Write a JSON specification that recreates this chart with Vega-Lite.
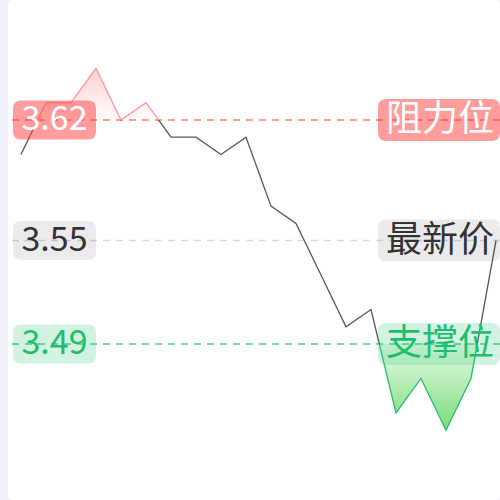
{
  "$schema": "https://vega.github.io/schema/vega-lite/v6.json",
  "width": 492,
  "height": 500,
  "autosize": {"type": "none"},
  "padding": {"left": 8, "top": 0, "right": 0, "bottom": 0},
  "background": "#f1f2f8",
  "config": {"view": {"fill": "white", "stroke": null, "cornerRadius": 5}, "font": "Noto Sans CJK SC"},
  "datasets": {
    "prices": [
      {"i": 0, "price": 3.60}, {"i": 1, "price": 3.63}, {"i": 2, "price": 3.63}, {"i": 3, "price": 3.65},
      {"i": 4, "price": 3.62}, {"i": 5, "price": 3.63}, {"i": 6, "price": 3.61}, {"i": 7, "price": 3.61},
      {"i": 8, "price": 3.60}, {"i": 9, "price": 3.61}, {"i": 10, "price": 3.57}, {"i": 11, "price": 3.56},
      {"i": 12, "price": 3.53}, {"i": 13, "price": 3.50}, {"i": 14, "price": 3.51}, {"i": 15, "price": 3.45},
      {"i": 16, "price": 3.47}, {"i": 17, "price": 3.44}, {"i": 18, "price": 3.47}, {"i": 19, "price": 3.55}
    ],
    "levels": [
      {"kind": "resistance", "level": 3.62, "value": "3.62", "name": "阻力位"},
      {"kind": "latest", "level": 3.55, "value": "3.55", "name": "最新价"},
      {"kind": "support", "level": 3.49, "value": "3.49", "name": "支撑位"}
    ]
  },
  "resolve": {"scale": {"color": "independent"}},
  "layer": [
    {
      "data": {"name": "prices"},
      "mark": {"type": "area", "fill": {"gradient": "linear", "x1": 0, "y1": 0, "x2": 0, "y2": 1, "stops": [
        {"offset": 0, "color": "rgba(255,110,110,0.32)"},
        {"offset": 0.1428, "color": "rgba(255,110,110,0.02)"},
        {"offset": 0.1429, "color": "rgba(255,255,255,0)"},
        {"offset": 1, "color": "rgba(255,255,255,0)"}
      ]}},
      "encoding": {
        "x": {"field": "i", "type": "quantitative", "scale": {"domain": [-0.52, 19.16], "nice": false, "zero": false}, "axis": null},
        "y": {"field": "price", "type": "quantitative", "scale": {"domain": [3.3995, 3.6896], "nice": false, "zero": false}, "axis": null},
        "y2": {"datum": 3.62}
      }
    },
    {
      "data": {"name": "prices"},
      "mark": {"type": "area", "fill": {"gradient": "linear", "x1": 0, "y1": 0, "x2": 0, "y2": 1, "stops": [
        {"offset": 0, "color": "rgba(255,255,255,0)"},
        {"offset": 0.7619, "color": "rgba(255,255,255,0)"},
        {"offset": 0.7620, "color": "#e8fae6"},
        {"offset": 1, "color": "#78dc7a"}
      ]}},
      "encoding": {
        "x": {"field": "i", "type": "quantitative", "axis": null},
        "y": {"field": "price", "type": "quantitative", "axis": null},
        "y2": {"datum": 3.49}
      }
    },
    {
      "data": {"name": "levels"},
      "mark": {"type": "rule", "strokeDash": [7, 6], "strokeWidth": 1.5},
      "encoding": {
        "y": {"field": "level", "type": "quantitative", "axis": null},
        "color": {"field": "kind", "type": "nominal", "legend": null, "scale": {"domain": ["resistance", "latest", "support"], "range": ["#ff7b7b", "#d9d9d9", "#4fcd8b"]}}
      }
    },
    {
      "data": {"name": "prices"},
      "mark": {"type": "line", "strokeWidth": 1.3, "stroke": {"gradient": "linear", "x1": 0, "y1": 0, "x2": 0, "y2": 1, "stops": [
        {"offset": 0, "color": "#ff9494"},
        {"offset": 0.142857, "color": "#ff9494"},
        {"offset": 0.142858, "color": "#555555"},
        {"offset": 0.761904, "color": "#555555"},
        {"offset": 0.761905, "color": "#22c06e"},
        {"offset": 1, "color": "#22c06e"}
      ]}},
      "encoding": {
        "x": {"field": "i", "type": "quantitative", "axis": null},
        "y": {"field": "price", "type": "quantitative", "axis": null}
      }
    },
    {
      "data": {"name": "levels"},
      "mark": {"type": "point", "filled": true, "opacity": 1, "strokeWidth": 0, "size": 6889,
        "shape": "M -0.807,-0.47 L 0.807,-0.47 Q 1,-0.47 1,-0.277 L 1,0.277 Q 1,0.47 0.807,0.47 L -0.807,0.47 Q -1,0.47 -1,0.277 L -1,-0.277 Q -1,-0.47 -0.807,-0.47 Z"},
      "encoding": {
        "x": {"datum": 1.34},
        "y": {"field": "level", "type": "quantitative", "axis": null},
        "color": {"field": "kind", "type": "nominal", "legend": null, "scale": {"domain": ["resistance", "latest", "support"], "range": ["rgba(255,60,60,0.5)", "rgba(0,0,0,0.08)", "rgba(30,190,110,0.2)"]}}
      }
    },
    {
      "data": {"name": "levels"},
      "mark": {"type": "point", "filled": true, "opacity": 1, "strokeWidth": 0, "size": 14884,
        "shape": "M -0.86,-0.344 L 0.86,-0.344 Q 1,-0.344 1,-0.204 L 1,0.204 Q 1,0.344 0.86,0.344 L -0.86,0.344 Q -1,0.344 -1,0.204 L -1,-0.204 Q -1,-0.344 -0.86,-0.344 Z"},
      "encoding": {
        "x": {"datum": 16.72},
        "y": {"field": "level", "type": "quantitative", "axis": null},
        "color": {"field": "kind", "type": "nominal", "legend": null, "scale": {"domain": ["resistance", "latest", "support"], "range": ["rgba(255,60,60,0.5)", "rgba(0,0,0,0.08)", "rgba(30,190,110,0.2)"]}}
      }
    },
    {
      "data": {"name": "levels"},
      "mark": {"type": "text", "fontSize": 34, "align": "center", "baseline": "middle", "font": "Noto Sans CJK SC"},
      "encoding": {
        "x": {"datum": 1.34},
        "y": {"field": "level", "type": "quantitative", "axis": null},
        "text": {"field": "value"},
        "color": {"field": "kind", "type": "nominal", "legend": null, "scale": {"domain": ["resistance", "latest", "support"], "range": ["#ffffff", "#333333", "#1dbe6e"]}}
      }
    },
    {
      "data": {"name": "levels"},
      "mark": {"type": "text", "fontSize": 36, "align": "center", "baseline": "middle", "font": "Noto Sans CJK SC"},
      "encoding": {
        "x": {"datum": 16.76},
        "y": {"field": "level", "type": "quantitative", "axis": null},
        "text": {"field": "name"},
        "color": {"field": "kind", "type": "nominal", "legend": null, "scale": {"domain": ["resistance", "latest", "support"], "range": ["#ffffff", "#333333", "#1dbe6e"]}}
      }
    }
  ]
}
